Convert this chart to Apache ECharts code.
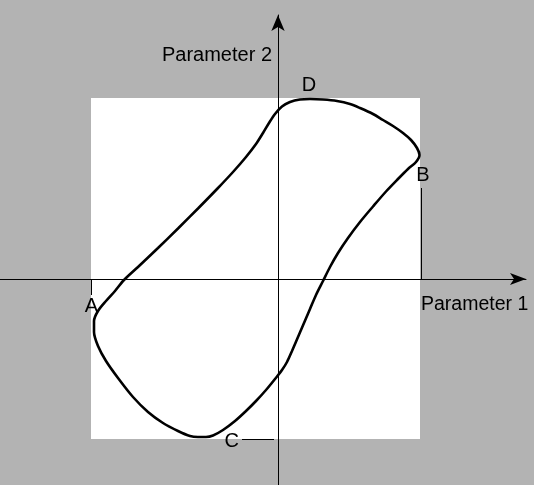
<!DOCTYPE html>
<html>
<head>
<meta charset="utf-8">
<script src="https://cdn.jsdelivr.net/npm/echarts@6/dist/echarts.min.js"></script>
<style>html,body{margin:0;padding:0;background:#b3b3b3;}#chart{width:534px;height:485px;}</style>
</head>
<body>
<div id="chart"></div>
<script>
// Closed loop (Parameter 1, Parameter 2)
const curveX = [-100, -80, -60, -45, -32, -22, -15, -9, -3, 4, 12, 22, 32, 45, 59, 72, 82, 95, 105, 115, 125, 133, 139, 141.5, 138, 130, 120, 108, 95, 82, 70, 60, 52, 45, 38, 32, 26, 20, 14, 9, 4, -3, -12, -22, -32, -43, -55, -65, -72, -80, -88, -100, -115, -130, -145, -160, -172, -180, -184, -184, -180, -172, -163, -154, -140, -120, -100];
const curveY = [50.5, 70.5, 91, 107, 122, 135, 146, 156, 165, 172.5, 177, 179.5, 180, 179.5, 178, 175, 171, 165, 159, 153, 146, 139, 131, 124, 117, 110, 100, 87.5, 72.5, 57, 41, 26, 12, -2, -16, -30, -44, -58, -72, -83, -91, -100, -111, -122, -132, -142, -151, -156.5, -158, -158, -157, -152, -144, -133, -118, -99, -82, -67, -53, -42, -32, -22, -12, -1, 12, 31, 50.5];
// Bounding box of the loop (white area)
const boxX = [-187, 142];
const boxY = [-160, 181];
// Extreme markers
const extremeNames = ['A', 'B', 'C', 'D'];
const axisNames = ['Parameter 1', 'Parameter 2'];

const curveData = curveX.map((x, i) => [x, curveY[i]]);
const font = '"Liberation Sans", Arial, Helvetica, sans-serif';

const chart = echarts.init(document.getElementById('chart'), null, {renderer: 'canvas'});
chart.setOption({
  animation: false,
  backgroundColor: '#b3b3b3',
  grid: {left: 0, right: 8, top: 15, bottom: 0, containLabel: false},
  xAxis: {
    type: 'value', min: -278, max: 248, z: 3,
    name: axisNames[0], nameLocation: 'end', nameGap: -105,
    nameTextStyle: {fontFamily: font, fontSize: 19.5, color: '#000', align: 'left', verticalAlign: 'top', padding: [16, 0, 0, 0]},
    axisLine: {show: true, onZero: true, symbol: ['none', 'arrow'], symbolSize: [9, 16], lineStyle: {color: '#000', width: 1}},
    axisTick: {show: false}, axisLabel: {show: false}, splitLine: {show: false}
  },
  yAxis: {
    type: 'value', min: -206, max: 264, z: 3,
    name: axisNames[1], nameLocation: 'end', nameGap: -40,
    nameTextStyle: {fontFamily: font, fontSize: 20, color: '#000', align: 'right', verticalAlign: 'middle', padding: [0, 6, 0, 0]},
    axisLine: {show: true, onZero: true, symbol: ['none', 'arrow'], symbolSize: [10, 16], lineStyle: {color: '#000', width: 1}},
    axisTick: {show: false}, axisLabel: {show: false}, splitLine: {show: false}
  },
  series: [
    {
      type: 'line', z: 1, data: [], silent: true,
      markArea: {
        silent: true,
        itemStyle: {color: '#ffffff', opacity: 1},
        data: [[{coord: [boxX[0], boxY[1]]}, {coord: [boxX[1], boxY[0]]}]]
      }
    },
    {
      type: 'line', z: 4, data: curveData, smooth: 0.3, showSymbol: false, symbol: 'none',
      lineStyle: {color: '#000', width: 2.6},
      markLine: {
        silent: true, symbol: 'none',
        lineStyle: {color: '#000', width: 1, type: 'solid'},
        label: {show: false},
        data: [
          [{coord: [boxX[0], 0]}, {coord: [boxX[0], -16]}],
          [{coord: [143, 0]}, {coord: [143, 91]}],
          [{coord: [-4, boxY[0]]}, {coord: [-36, boxY[0]]}]
        ]
      },
      markPoint: {
        silent: true, symbol: 'circle', symbolSize: 0,
        label: {show: true, fontFamily: font, fontSize: 20, color: '#000'},
        data: [
          {coord: [boxX[0] + 0.5, -16], value: extremeNames[0], label: {position: 'bottom', distance: 1, formatter: extremeNames[0]}},
          {coord: [145, 91], value: extremeNames[1], label: {position: 'top', distance: 3, formatter: extremeNames[1]}},
          {coord: [-36, boxY[0] - 2], value: extremeNames[2], label: {position: 'left', distance: 3, formatter: extremeNames[2]}},
          {coord: [31, boxY[1]], value: extremeNames[3], label: {position: 'top', distance: 2.5, formatter: extremeNames[3]}}
        ]
      }
    }
  ]
});
</script>
</body>
</html>
